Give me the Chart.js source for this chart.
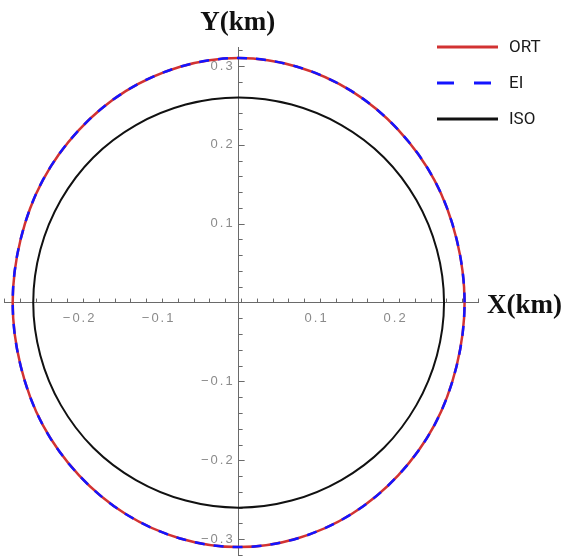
<!DOCTYPE html>
<html>
<head>
<meta charset="utf-8">
<script src="https://cdn.jsdelivr.net/npm/chart.js@4.4.0/dist/chart.umd.min.js"></script>
<style>
    html, body { margin: 0; padding: 0; background: #ffffff; }
    #wrap { width: 563px; height: 556px; position: relative; }
</style>
</head>
<body>
<div id="wrap"><canvas id="shapeChart"></canvas></div>
<script>
// Curves (km), one point every 15 degrees, closed loop
const ortX = [0.286, 0.276, 0.248, 0.202, 0.143, 0.074, 0, -0.074, -0.143, -0.202, -0.248, -0.276, -0.286,
              -0.276, -0.248, -0.202, -0.143, -0.074, 0, 0.074, 0.143, 0.202, 0.248, 0.276, 0.286];
const ortY = [0, 0.080, 0.155, 0.219, 0.268, 0.299, 0.310, 0.299, 0.268, 0.219, 0.155, 0.080, 0,
              -0.080, -0.155, -0.219, -0.268, -0.299, -0.310, -0.299, -0.268, -0.219, -0.155, -0.080, 0];

const eiX = [0.286, 0.276, 0.248, 0.202, 0.143, 0.074, 0, -0.074, -0.143, -0.202, -0.248, -0.276, -0.286,
             -0.276, -0.248, -0.202, -0.143, -0.074, 0, 0.074, 0.143, 0.202, 0.248, 0.276, 0.286];
const eiY = [0, 0.080, 0.155, 0.219, 0.268, 0.299, 0.310, 0.299, 0.268, 0.219, 0.155, 0.080, 0,
             -0.080, -0.155, -0.219, -0.268, -0.299, -0.310, -0.299, -0.268, -0.219, -0.155, -0.080, 0];

const isoX = [0.260, 0.251, 0.225, 0.184, 0.130, 0.067, 0, -0.067, -0.130, -0.184, -0.225, -0.251, -0.260,
              -0.251, -0.225, -0.184, -0.130, -0.067, 0, 0.067, 0.130, 0.184, 0.225, 0.251, 0.260];
const isoY = [0, 0.067, 0.130, 0.184, 0.225, 0.251, 0.260, 0.251, 0.225, 0.184, 0.130, 0.067, 0,
              -0.067, -0.130, -0.184, -0.225, -0.251, -0.260, -0.251, -0.225, -0.184, -0.130, -0.067, 0];

// Labelled ticks
const xTickLabels = [-0.2, -0.1, 0.1, 0.2];
const yTickLabels = [-0.3, -0.2, -0.1, 0.1, 0.2, 0.3];

// wrap one point round each end so the spline closes smoothly,
// the extra segments are hidden with segment styling below
function loopPoints(xs, ys) {
    const n = xs.length - 1; // last point repeats the first
    const pts = xs.map((x, i) => ({ x: x, y: ys[i] }));
    pts.unshift({ x: xs[n - 1], y: ys[n - 1] });
    pts.push({ x: xs[1], y: ys[1] });
    return pts;
}

function hideWrap(ctx) {
    const last = ctx.chart.data.datasets[ctx.datasetIndex].data.length - 1;
    if (ctx.p0DataIndex === 0 || ctx.p1DataIndex === last) return 'rgba(0,0,0,0)';
    return undefined;
}

function isMajor(value, list) {
    return list.some(v => Math.abs(v - value) < 1e-6);
}

function fmt(value) {
    const s = Math.abs(value).toFixed(1);
    return value < 0 ? '\u2212' + s : s;
}

const axisColor = '#6a6a6a';
const labelColor = '#8a8a8a';

// Mathematica style ticks: marks drawn inwards (up / right), labels outside
const tickMarks = {
    id: 'tickMarks',
    beforeDatasetsDraw(chart) {
        const { ctx, scales: { x, y } } = chart;
        const x0 = x.getPixelForValue(0);
        const y0 = y.getPixelForValue(0);
        ctx.save();
        ctx.strokeStyle = axisColor;
        ctx.lineWidth = 1;
        ctx.beginPath();
        x.ticks.forEach(t => {
            if (Math.abs(t.value) < 1e-9) return;
            const px = Math.round(x.getPixelForValue(t.value)) + 0.5;
            const len = isMajor(t.value, xTickLabels) ? 6 : 4;
            ctx.moveTo(px, y0);
            ctx.lineTo(px, y0 - len);
        });
        y.ticks.forEach(t => {
            if (Math.abs(t.value) < 1e-9) return;
            const py = Math.round(y.getPixelForValue(t.value)) + 0.5;
            const len = isMajor(t.value, yTickLabels) ? 6 : 4;
            ctx.moveTo(x0, py);
            ctx.lineTo(x0 + len, py);
        });
        ctx.stroke();

        // tick labels
        ctx.fillStyle = labelColor;
        ctx.font = '13px "Liberation Sans", Arial, sans-serif';
        ctx.letterSpacing = '2px';
        ctx.textAlign = 'center';
        ctx.textBaseline = 'middle';
        xTickLabels.forEach(v => {
            ctx.fillText(fmt(v), x.getPixelForValue(v) - 1, y0 + 16);
        });
        ctx.textAlign = 'right';
        yTickLabels.forEach(v => {
            ctx.fillText(fmt(v), x0 - 4, y.getPixelForValue(v));
        });
        ctx.letterSpacing = '0px';
        ctx.restore();
    }
};

// Axis titles and legend
const annotations = {
    id: 'annotations',
    afterDraw(chart) {
        const { ctx, scales: { x, y } } = chart;
        ctx.save();
        ctx.fillStyle = '#111111';
        ctx.font = 'bold 27px "Liberation Serif", "Times New Roman", serif';
        ctx.textAlign = 'center';
        ctx.textBaseline = 'alphabetic';
        ctx.fillText('Y(km)', x.getPixelForValue(0) - 1, 30);
        ctx.textAlign = 'left';
        ctx.fillText('X(km)', 487, y.getPixelForValue(0) + 10);

        // legend
        const rows = [47, 83, 119];
        ctx.font = '17px Roboto, "Liberation Sans", Arial, sans-serif';
        ctx.textBaseline = 'middle';
        chart.data.datasets.forEach((ds, i) => {
            const yy = rows[i];
            ctx.strokeStyle = ds.borderColor;
            ctx.lineWidth = 3;
            ctx.setLineDash(ds.borderDash && ds.borderDash.length ? [17, 20] : []);
            ctx.beginPath();
            ctx.moveTo(437, yy);
            ctx.lineTo(498, yy);
            ctx.stroke();
            ctx.setLineDash([]);
            ctx.fillStyle = '#1a1a1a';
            ctx.fillText(ds.label, 509, yy + 1);
        });
        ctx.restore();
    }
};

const ctx = document.getElementById('shapeChart').getContext('2d');

const config = {
    type: 'scatter',
    data: {
        datasets: [
            {
                label: 'ORT',
                data: loopPoints(ortX, ortY),
                showLine: true,
                borderColor: '#d23232',
                borderWidth: 2.5,
                tension: 0.34,
                pointRadius: 0,
                fill: false,
                order: 2,
                segment: { borderColor: hideWrap }
            },
            {
                label: 'EI',
                data: loopPoints(eiX, eiY),
                showLine: true,
                borderColor: '#1414ff',
                borderWidth: 2.5,
                borderDash: [10, 9],
                tension: 0.34,
                pointRadius: 0,
                fill: false,
                order: 1,
                segment: { borderColor: hideWrap }
            },
            {
                label: 'ISO',
                data: loopPoints(isoX, isoY),
                showLine: true,
                borderColor: '#111111',
                borderWidth: 2,
                tension: 0.34,
                pointRadius: 0,
                fill: false,
                order: 0,
                segment: { borderColor: hideWrap }
            }
        ]
    },
    options: {
        responsive: true,
        maintainAspectRatio: false,
        animation: false,
        layout: {
            padding: { left: 4, right: 85, top: 47, bottom: 1 }
        },
        plugins: {
            legend: { display: false },
            tooltip: { enabled: false },
            title: { display: false }
        },
        scales: {
            x: {
                type: 'linear',
                position: { y: 0 },
                min: -0.297,
                max: 0.303,
                grid: { display: false, drawTicks: false },
                border: { display: true, color: axisColor, width: 1 },
                ticks: { stepSize: 0.02, includeBounds: false, display: false }
            },
            y: {
                type: 'linear',
                position: { x: 0 },
                min: -0.32,
                max: 0.324,
                grid: { display: false, drawTicks: false },
                border: { display: true, color: axisColor, width: 1 },
                ticks: { stepSize: 0.02, includeBounds: false, display: false }
            }
        }
    },
    plugins: [tickMarks, annotations]
};

const shapeChart = new Chart(ctx, config);
</script>
</body>
</html>
